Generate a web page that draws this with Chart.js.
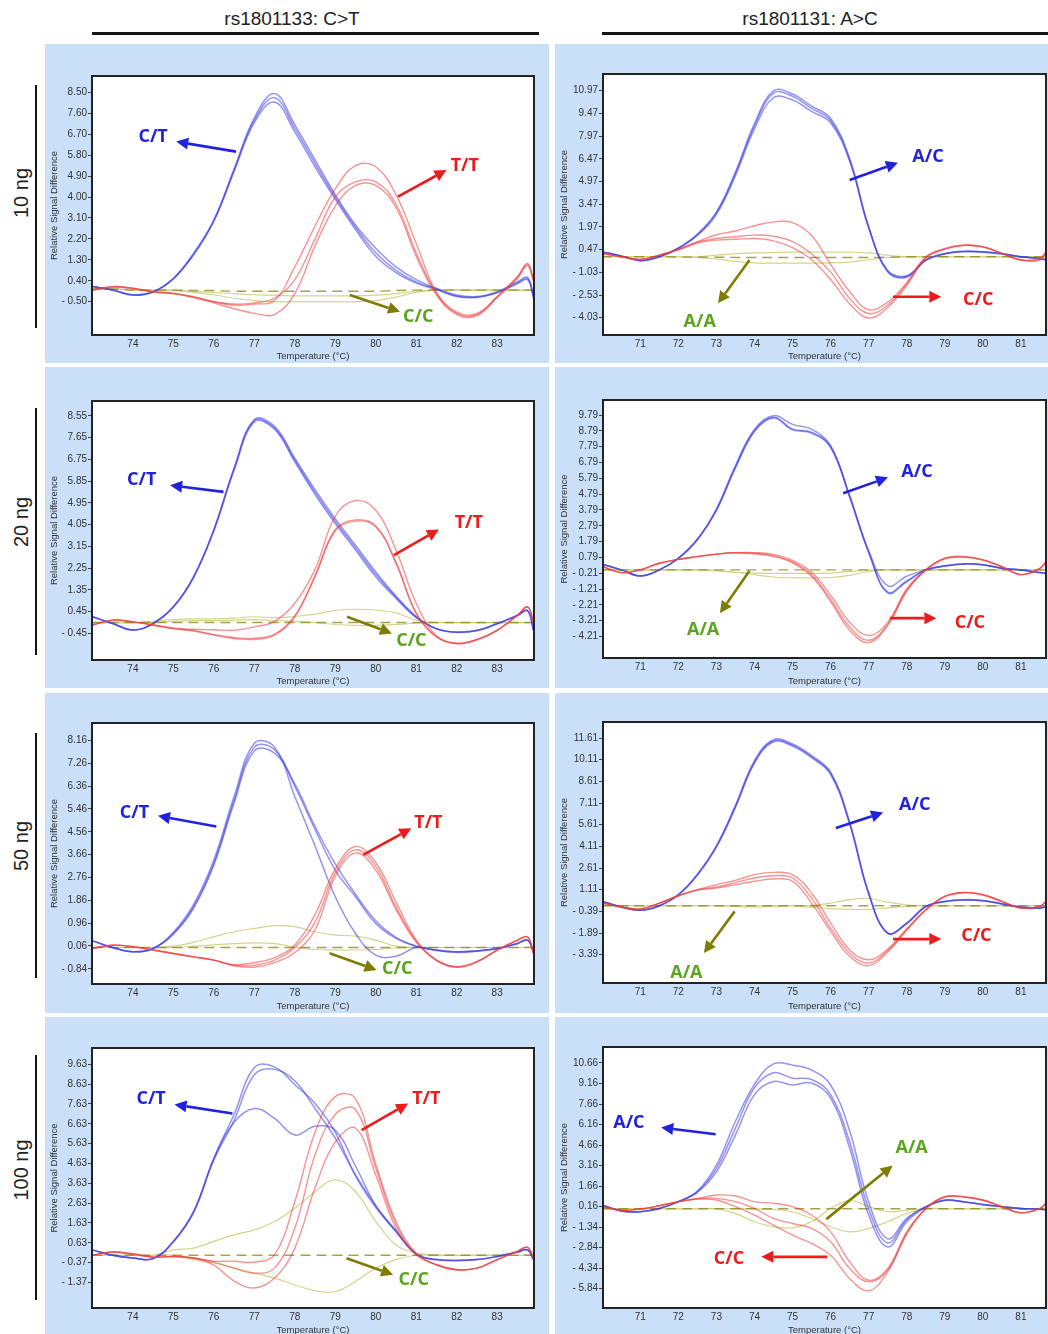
<!DOCTYPE html>
<html>
<head>
<meta charset="utf-8">
<script src="https://cdn.jsdelivr.net/npm/chart.js@4.4.1/dist/chart.umd.min.js"></script>
<style>
  body { margin: 0; background: #fff; }
  #page { position: relative; width: 1048px; height: 1334px; overflow: hidden; font-family: "Liberation Sans", Arial, sans-serif; }
  canvas { position: absolute; }
  .head { position: absolute; top: 9px; line-height: 20px; font-size: 19px; color: #222; transform: translateX(-50%); white-space: nowrap; }
  .rule { position: absolute; top: 32px; height: 3px; background: #151515; }
  .side { position: absolute; font-size: 20px; color: #222; transform: translate(-50%, -50%) rotate(-90deg); white-space: nowrap; }
  .vline { position: absolute; left: 35px; width: 2px; background: #151515; }
</style>
</head>
<body>
<div id="page"></div>
<script>
// temperatures (°C) the curves are sampled at
const tempL = [73, 73.5, 74, 74.5, 75, 75.5, 76, 76.5, 77, 77.5, 78, 78.5, 79, 79.5, 80, 80.5, 81, 81.5, 82, 82.5, 83, 83.5, 83.75, 83.9];
const tempR = [70, 70.5, 71, 71.5, 72, 72.5, 73, 73.5, 74, 74.5, 75, 75.5, 76, 76.5, 77, 77.5, 78, 78.5, 79, 79.5, 80, 80.5, 81, 81.5, 81.66];
const xTicksL = [74, 75, 76, 77, 78, 79, 80, 81, 82, 83];
const xTicksR = [71, 72, 73, 74, 75, 76, 77, 78, 79, 80, 81];

// y tick labels of each panel
const yTicks10L = [8.50, 7.60, 6.70, 5.80, 4.90, 4.00, 3.10, 2.20, 1.30, 0.40, -0.50];
const yTicks10R = [10.97, 9.47, 7.97, 6.47, 4.97, 3.47, 1.97, 0.47, -1.03, -2.53, -4.03];
const yTicks20L = [8.55, 7.65, 6.75, 5.85, 4.95, 4.05, 3.15, 2.25, 1.35, 0.45, -0.45];
const yTicks20R = [9.79, 8.79, 7.79, 6.79, 5.79, 4.79, 3.79, 2.79, 1.79, 0.79, -0.21, -1.21, -2.21, -3.21, -4.21];
const yTicks50L = [8.16, 7.26, 6.36, 5.46, 4.56, 3.66, 2.76, 1.86, 0.96, 0.06, -0.84];
const yTicks50R = [11.61, 10.11, 8.61, 7.11, 5.61, 4.11, 2.61, 1.11, -0.39, -1.89, -3.39];
const yTicks100L = [9.63, 8.63, 7.63, 6.63, 5.63, 4.63, 3.63, 2.63, 1.63, 0.63, -0.37, -1.37];
const yTicks100R = [10.66, 9.16, 7.66, 6.16, 4.66, 3.16, 1.66, 0.16, -1.34, -2.84, -4.34, -5.84];

// rs1801133 C>T, 10 ng
const ng10_CT = [
  [0.15, 0.0, -0.21, -0.07, 0.5, 1.58, 3.0, 5.2, 7.4, 8.45, 7.1, 5.6, 4.1, 2.8, 1.8, 1.0, 0.45, 0.08, -0.21, -0.28, -0.07, 0.36, 0.55, -0.28],
  [0.15, 0.0, -0.2, -0.07, 0.5, 1.55, 3.0, 5.15, 7.3, 8.27, 6.95, 5.45, 4.0, 2.7, 1.6, 0.85, 0.35, 0.05, -0.25, -0.3, -0.1, 0.3, 0.5, -0.3],
  [0.15, 0.0, -0.22, -0.08, 0.48, 1.5, 2.95, 5.1, 7.2, 8.08, 6.8, 5.3, 3.9, 2.6, 1.45, 0.75, 0.3, 0.02, -0.28, -0.32, -0.12, 0.28, 0.45, -0.35]
];
const ng10_TT = [
  [0.0, 0.15, 0.08, -0.07, -0.14, -0.28, -0.5, -0.65, -0.6, -0.45, 1.0, 2.75, 4.35, 5.35, 5.3, 4.1, 2.0, -0.1, -0.95, -1.0, -0.28, 0.58, 1.15, 0.43],
  [0.0, 0.15, 0.08, -0.07, -0.14, -0.3, -0.5, -0.6, -0.55, -0.35, 0.45, 2.2, 4.0, 4.65, 4.65, 3.7, 1.6, -0.15, -1.0, -1.05, -0.3, 0.55, 1.1, 0.4],
  [0.0, 0.12, 0.06, -0.08, -0.16, -0.32, -0.55, -0.8, -1.0, -1.05, -0.15, 1.9, 3.6, 4.5, 4.5, 3.55, 1.45, -0.2, -1.05, -1.1, -0.32, 0.5, 1.05, 0.38]
];
const ng10_CC = [
  [0.05, 0.05, 0.0, 0.0, 0.0, -0.02, -0.02, -0.05, -0.05, -0.05, -0.05, -0.05, -0.05, -0.05, -0.05, -0.02, 0.0, 0.0, 0.0, 0.0, 0.0, 0.0, 0.0, 0.0],
  [0.05, 0.05, 0.0, 0.0, -0.02, -0.1, -0.2, -0.35, -0.45, -0.5, -0.5, -0.5, -0.5, -0.5, -0.45, -0.3, -0.1, 0.0, 0.0, 0.0, 0.0, 0.0, 0.0, 0.0],
  [0.05, 0.05, 0.0, 0.0, 0.0, -0.05, -0.1, -0.15, -0.2, -0.22, -0.25, -0.25, -0.25, -0.25, -0.22, -0.15, -0.05, 0.0, 0.0, 0.0, 0.0, 0.0, 0.0, 0.0]
];

// rs1801131 A>C, 10 ng
const ng10_AC = [
  [0.33, 0.05, -0.26, 0.0, 0.58, 1.5, 2.95, 5.6, 8.8, 10.95, 10.75, 9.95, 9.15, 6.5, 2.0, -0.9, -1.25, -0.22, 0.22, 0.37, 0.33, 0.22, 0.0, -0.11, -0.2],
  [0.33, 0.05, -0.26, 0.0, 0.56, 1.45, 2.9, 5.5, 8.65, 10.8, 10.6, 9.8, 9.0, 6.4, 1.95, -0.95, -1.3, -0.22, 0.2, 0.35, 0.32, 0.2, 0.0, -0.12, -0.2],
  [0.33, 0.05, -0.26, 0.0, 0.54, 1.4, 2.8, 5.35, 8.45, 10.5, 10.35, 9.6, 8.85, 6.3, 1.9, -1.0, -1.35, -0.25, 0.18, 0.33, 0.3, 0.18, 0.0, -0.13, -0.22]
];
const ng10_CCb = [
  [0.22, 0.0, -0.18, 0.11, 0.48, 1.0, 1.45, 1.7, 2.05, 2.3, 2.25, 1.4, -0.5, -2.3, -3.5, -3.0, -1.7, 0.0, 0.55, 0.77, 0.66, 0.22, -0.22, -0.1, 0.33],
  [0.22, 0.0, -0.18, 0.11, 0.47, 0.95, 1.2, 1.32, 1.43, 1.35, 1.0, 0.2, -1.0, -2.75, -3.75, -3.2, -1.8, -0.05, 0.5, 0.75, 0.65, 0.22, -0.22, -0.2, 0.3],
  [0.22, 0.0, -0.18, 0.11, 0.46, 0.9, 1.1, 1.15, 1.2, 1.05, 0.6, -0.2, -1.5, -3.1, -4.05, -3.35, -1.9, -0.1, 0.5, 0.75, 0.65, 0.22, -0.22, -0.2, 0.3]
];
const ng10_AA = [
  [0, 0, 0, 0, -0.02, -0.03, -0.03, -0.05, -0.05, -0.05, -0.05, -0.05, -0.05, -0.05, -0.05, -0.03, 0, 0, 0, 0, 0, 0, 0, 0, 0],
  [0, 0, 0, 0, 0, 0, 0.1, 0.2, 0.25, 0.28, 0.3, 0.3, 0.3, 0.3, 0.25, 0.1, 0, 0, 0, 0, 0, 0, 0, 0, 0],
  [0, 0, 0, 0, 0, -0.05, -0.15, -0.3, -0.4, -0.42, -0.42, -0.42, -0.4, -0.35, -0.2, -0.05, 0, 0, 0, 0, 0, 0, 0, 0, 0]
];

// rs1801133 C>T, 20 ng
const ng20_CT = [
  [0.24, -0.04, -0.31, -0.04, 0.65, 1.9, 3.85, 6.4, 8.4, 8.12, 6.8, 5.5, 4.3, 3.2, 2.1, 1.1, 0.25, -0.25, -0.39, -0.32, -0.04, 0.3, 0.5, -0.32],
  [0.24, -0.04, -0.31, -0.04, 0.65, 1.88, 3.82, 6.35, 8.35, 8.05, 6.72, 5.4, 4.2, 3.1, 2.0, 1.05, 0.23, -0.25, -0.4, -0.33, -0.05, 0.3, 0.5, -0.33],
  [0.24, -0.04, -0.31, -0.04, 0.64, 1.86, 3.8, 6.3, 8.3, 8.0, 6.65, 5.3, 4.1, 3.0, 1.9, 1.0, 0.2, -0.27, -0.41, -0.34, -0.05, 0.28, 0.48, -0.34]
];
const ng20_TT = [
  [-0.1, 0.1, 0.03, -0.1, -0.22, -0.28, -0.3, -0.32, -0.18, 0.05, 0.8, 2.2, 4.4, 5.05, 4.65, 3.0, 0.8, -0.55, -0.85, -0.7, -0.32, 0.3, 0.65, 0.03],
  [-0.1, 0.1, 0.03, -0.1, -0.25, -0.35, -0.52, -0.66, -0.7, -0.52, 0.24, 1.89, 3.8, 4.2, 3.96, 2.45, 0.37, -0.6, -0.88, -0.72, -0.32, 0.3, 0.65, 0.03],
  [-0.1, 0.1, 0.03, -0.1, -0.25, -0.33, -0.5, -0.62, -0.65, -0.48, 0.28, 1.95, 3.85, 4.25, 4.0, 2.5, 0.4, -0.58, -0.87, -0.71, -0.32, 0.3, 0.65, 0.03]
];
const ng20_CC = [
  [0, 0, 0, 0, 0, 0, 0, 0, 0, 0, 0, 0, 0, 0, 0, 0, 0, 0, 0, 0, 0, 0, 0, 0],
  [0, 0, 0, 0.05, 0.12, 0.15, 0.15, 0.18, 0.24, 0.2, 0.25, 0.35, 0.5, 0.55, 0.52, 0.4, 0.1, 0, 0, 0, 0, 0, 0, 0],
  [0, 0, 0, 0, 0.05, 0.08, 0.08, 0.1, 0.12, 0.08, 0.05, 0, -0.08, -0.12, -0.12, -0.08, -0.02, 0, 0, 0, 0, 0, 0, 0]
];

// rs1801131 A>C, 20 ng
const ng20_AC = [
  [0.36, 0.0, -0.38, 0.0, 0.75, 1.95, 3.85, 6.6, 8.9, 9.75, 9.2, 8.9, 7.85, 4.7, 1.2, -1.0, -0.4, 0.0, 0.25, 0.38, 0.32, 0.1, 0.0, -0.17, -0.21],
  [0.36, 0.0, -0.38, 0.0, 0.72, 1.9, 3.75, 6.45, 8.75, 9.6, 8.85, 8.65, 7.75, 4.6, 1.1, -1.45, -0.75, 0.0, 0.25, 0.38, 0.32, 0.1, 0.0, -0.17, -0.21],
  [0.36, 0.0, -0.38, 0.0, 0.73, 1.92, 3.8, 6.5, 8.8, 9.65, 8.9, 8.7, 7.8, 4.65, 1.15, -1.4, -0.7, 0.0, 0.25, 0.38, 0.32, 0.1, 0.0, -0.17, -0.21]
];
const ng20_CCb = [
  [0.21, -0.17, 0.0, 0.42, 0.67, 0.84, 1.0, 1.09, 1.09, 0.98, 0.6, -0.15, -1.6, -3.3, -4.15, -3.3, -1.2, 0.0, 0.75, 0.85, 0.65, 0.21, -0.3, 0.1, 0.53],
  [0.21, -0.17, 0.0, 0.42, 0.67, 0.84, 1.0, 1.09, 1.05, 0.9, 0.5, -0.3, -1.85, -3.6, -4.45, -3.45, -1.3, 0.0, 0.72, 0.82, 0.63, 0.2, -0.3, 0.1, 0.5],
  [0.21, -0.17, 0.0, 0.42, 0.67, 0.84, 1.0, 1.07, 1.02, 0.85, 0.45, -0.4, -2.0, -3.8, -4.6, -3.5, -1.35, 0.0, 0.7, 0.8, 0.62, 0.2, -0.3, 0.1, 0.5]
];
const ng20_AA = [
  [0, 0, 0, 0, 0, 0, 0, 0, 0, 0, 0, 0, 0, 0, 0, 0, 0, 0, 0, 0, 0, 0, 0, 0, 0],
  [0, 0, 0, 0, 0, 0, -0.05, -0.15, -0.2, -0.22, -0.22, -0.22, -0.2, -0.1, -0.02, 0, 0, 0, 0, 0, 0, 0, 0, 0, 0],
  [0, 0, 0, 0, 0, 0, -0.05, -0.15, -0.3, -0.45, -0.5, -0.5, -0.48, -0.35, -0.1, 0, 0, 0, 0, 0, 0, 0, 0, 0, 0]
];

// rs1801133 C>T, 50 ng
const ng50_CT = [
  [0.26, 0.0, -0.17, -0.04, 0.6, 1.7, 3.45, 5.95, 8.05, 7.9, 5.95, 4.0, 2.0, 0.55, -0.3, -0.35, 0.0, -0.1, -0.17, -0.13, -0.04, 0.16, 0.29, -0.17],
  [0.26, 0.0, -0.17, -0.04, 0.55, 1.6, 3.32, 5.8, 7.9, 7.8, 6.35, 4.65, 3.05, 2.0, 0.95, 0.36, 0.05, -0.1, -0.17, -0.13, -0.04, 0.16, 0.29, -0.17],
  [0.26, 0.0, -0.17, -0.04, 0.52, 1.55, 3.25, 5.7, 7.75, 7.66, 6.45, 4.77, 3.3, 2.1, 1.05, 0.4, 0.05, -0.12, -0.2, -0.15, -0.05, 0.15, 0.28, -0.18]
];
const ng50_TT = [
  [-0.04, 0.09, 0.03, -0.1, -0.24, -0.37, -0.5, -0.68, -0.6, -0.4, 0.1, 1.3, 3.1, 3.98, 3.35, 1.8, 0.3, -0.5, -0.76, -0.56, -0.1, 0.29, 0.42, -0.24],
  [-0.04, 0.09, 0.03, -0.1, -0.24, -0.37, -0.5, -0.7, -0.7, -0.5, 0.0, 1.0, 2.95, 3.85, 3.2, 1.6, 0.25, -0.5, -0.76, -0.56, -0.1, 0.29, 0.42, -0.24],
  [-0.04, 0.09, 0.03, -0.1, -0.24, -0.37, -0.5, -0.72, -0.78, -0.6, -0.2, 0.7, 2.8, 3.72, 3.05, 1.5, 0.2, -0.52, -0.78, -0.58, -0.1, 0.28, 0.4, -0.25]
];
const ng50_CC = [
  [0, 0, 0, 0, 0, 0, 0, 0, 0, 0, 0, 0, 0, 0, 0, 0, 0, 0, 0, 0, 0, 0, 0, 0],
  [0, 0, 0, 0, 0.05, 0.2, 0.42, 0.62, 0.75, 0.86, 0.82, 0.62, 0.49, 0.45, 0.29, 0.05, 0, 0, 0, 0, 0, 0, 0, 0],
  [0, 0, 0, 0, 0, 0.05, 0.1, 0.15, 0.18, 0.15, 0.02, -0.08, -0.1, -0.1, -0.08, -0.02, 0, 0, 0, 0, 0, 0, 0, 0]
];

// rs1801131 A>C, 50 ng
const ng50_AC = [
  [0.3, -0.09, -0.32, 0.0, 0.78, 2.18, 4.15, 6.95, 10.05, 11.5, 11.2, 10.4, 9.25, 5.8, 0.9, -1.88, -1.2, -0.05, 0.3, 0.42, 0.37, 0.14, -0.09, -0.16, -0.05],
  [0.3, -0.09, -0.32, 0.0, 0.76, 2.15, 4.1, 6.88, 9.95, 11.42, 11.12, 10.32, 9.18, 5.72, 0.86, -1.9, -1.22, -0.06, 0.3, 0.4, 0.35, 0.13, -0.1, -0.16, -0.06],
  [0.3, -0.09, -0.32, 0.0, 0.74, 2.12, 4.05, 6.8, 9.88, 11.35, 11.05, 10.25, 9.1, 5.65, 0.82, -1.92, -1.24, -0.07, 0.28, 0.39, 0.34, 0.12, -0.1, -0.17, -0.07]
];
const ng50_CCb = [
  [0.18, -0.09, -0.23, 0.18, 0.69, 1.11, 1.46, 1.76, 2.15, 2.31, 2.15, 0.88, -1.2, -3.04, -3.74, -3.0, -1.6, -0.28, 0.65, 0.92, 0.76, 0.3, -0.16, -0.05, 0.3],
  [0.18, -0.09, -0.23, 0.18, 0.69, 1.1, 1.3, 1.6, 1.92, 2.08, 1.92, 0.53, -1.55, -3.27, -3.97, -3.1, -1.66, -0.28, 0.65, 0.92, 0.76, 0.3, -0.16, -0.05, 0.3],
  [0.18, -0.09, -0.23, 0.18, 0.69, 1.08, 1.22, 1.46, 1.69, 1.85, 1.69, 0.18, -1.78, -3.5, -4.15, -3.2, -1.7, -0.3, 0.63, 0.9, 0.74, 0.3, -0.16, -0.05, 0.3]
];
const ng50_AA = [
  [0, 0, 0, 0, 0, 0, 0, 0, 0, 0, 0, 0, 0, 0, 0, 0, 0, 0, 0, 0, 0, 0, 0, 0, 0],
  [0, 0, 0, 0, 0, 0, 0, 0, 0, 0, 0, 0.02, 0.18, 0.42, 0.5, 0.25, 0.05, 0, 0, 0, 0, 0, 0, 0, 0],
  [0, 0, 0, 0, 0, 0, 0, -0.05, -0.08, -0.05, 0, -0.1, -0.2, -0.25, -0.25, -0.15, -0.05, 0, 0, 0, 0, 0, 0, 0, 0]
];

// rs1801133 C>T, 100 ng
const ng100_CT = [
  [0.27, 0.0, -0.14, -0.17, 0.7, 2.2, 4.9, 7.1, 9.45, 9.5, 8.6, 7.65, 6.2, 4.0, 2.4, 1.2, 0.06, -0.22, -0.27, -0.22, -0.06, 0.16, 0.27, -0.22],
  [0.27, 0.0, -0.14, -0.17, 0.68, 2.15, 4.8, 6.8, 9.1, 9.38, 8.8, 7.4, 5.9, 4.05, 2.5, 1.25, 0.06, -0.22, -0.27, -0.22, -0.06, 0.16, 0.27, -0.22],
  [0.27, 0.0, -0.14, -0.17, 0.68, 2.2, 4.85, 6.7, 7.4, 6.9, 6.06, 6.5, 6.3, 4.5, 2.5, 1.2, 0.06, -0.22, -0.27, -0.22, -0.06, 0.16, 0.27, -0.22]
];
const ng100_TT = [
  [0.0, 0.16, 0.06, -0.1, -0.06, -0.14, -0.3, -0.3, -0.35, 0.03, 2.7, 6.2, 8.0, 7.9, 4.6, 1.7, 0.1, -0.48, -0.73, -0.65, -0.22, 0.2, 0.4, -0.14],
  [0.0, 0.16, 0.06, -0.1, -0.06, -0.14, -0.35, -0.65, -0.9, -0.65, 1.36, 5.05, 7.1, 7.35, 4.4, 1.55, 0.06, -0.48, -0.73, -0.65, -0.22, 0.2, 0.4, -0.14],
  [0.0, 0.16, 0.06, -0.1, -0.06, -0.14, -0.5, -1.3, -1.65, -1.15, 0.36, 3.4, 5.7, 6.4, 4.05, 1.36, 0.02, -0.48, -0.73, -0.65, -0.22, 0.2, 0.4, -0.14]
];
const ng100_CC = [
  [0, 0, 0, 0, 0, 0, 0, 0, 0, 0, 0, 0, 0, 0, 0, 0, 0, 0, 0, 0, 0, 0, 0, 0],
  [0, 0, 0, 0, 0.27, 0.36, 0.7, 1.03, 1.28, 1.7, 2.37, 3.2, 3.8, 3.2, 1.7, 0.52, 0.11, 0.02, 0, 0, 0, 0, 0, 0],
  [0, 0, 0, 0, 0, -0.22, -0.39, -0.65, -0.9, -1.15, -1.49, -1.79, -1.83, -1.32, -0.65, -0.22, 0, 0, 0, 0, 0, 0, 0, 0]
];

// rs1801131 A>C, 100 ng
const ng100_AC = [
  [0.27, -0.17, -0.22, 0.02, 0.52, 1.3, 3.2, 6.4, 9.1, 10.6, 10.5, 10.15, 9.05, 5.7, 0.5, -2.2, -0.7, 0.15, 0.64, 0.52, 0.32, 0.15, 0.02, -0.02, -0.1],
  [0.27, -0.17, -0.22, 0.02, 0.52, 1.25, 2.95, 5.9, 8.85, 9.95, 9.55, 9.45, 8.35, 4.9, 0.0, -2.5, -0.8, 0.15, 0.62, 0.5, 0.3, 0.15, 0.02, -0.02, -0.1],
  [0.27, -0.17, -0.22, 0.02, 0.5, 1.2, 2.7, 5.4, 8.35, 9.3, 9.05, 9.2, 8.1, 4.45, -0.45, -2.8, -0.95, 0.12, 0.6, 0.5, 0.3, 0.15, 0.02, -0.02, -0.1]
];
const ng100_CCb = [
  [0.15, -0.1, -0.02, 0.22, 0.52, 0.75, 1.0, 0.93, 0.52, 0.4, 0.15, -0.46, -1.69, -3.88, -5.23, -4.37, -1.69, 0.02, 0.88, 0.88, 0.64, 0.15, -0.3, 0.02, 0.4],
  [0.15, -0.1, -0.02, 0.22, 0.52, 0.72, 0.76, 0.52, 0.02, -0.71, -1.08, -1.44, -2.42, -4.37, -5.35, -4.5, -1.8, 0.0, 0.88, 0.88, 0.64, 0.15, -0.3, 0.02, 0.4],
  [0.15, -0.1, -0.02, 0.22, 0.52, 0.7, 0.64, 0.15, -0.46, -1.2, -1.93, -2.54, -3.4, -5.1, -6.0, -4.62, -1.85, 0.0, 0.85, 0.85, 0.62, 0.15, -0.3, 0.02, 0.4]
];
const ng100_AA = [
  [0, 0, 0, 0, 0, 0, 0, 0, 0, 0, 0, 0, 0, 0, 0, 0, 0, 0, 0, 0, 0, 0, 0, 0, 0],
  [0, 0, 0, 0, 0, 0, 0, -0.34, -0.95, -1.32, -1.4, -0.95, 0.02, 0.6, 0.15, -0.22, -0.1, 0, 0, 0, 0, 0, 0, 0, 0],
  [0, 0, 0, 0, 0, 0, 0, 0, 0, -0.05, -0.22, -0.71, -1.32, -1.69, -1.44, -0.95, -0.34, 0, 0, 0, 0, 0, 0, 0, 0]
];

const FONT = '"Liberation Sans", Arial, sans-serif';
const BG = '#cadff8';
const BLUE = '#2222dd', RED = '#ec1c1c', OLIVE = '#7d7d05', GREEN = '#5aa41e';

const lineStyle = {
  blue: { color: 'rgba(60,60,225,0.55)', width: 1.5 },
  red: { color: 'rgba(238,60,60,0.55)', width: 1.4 },
  yellow: { color: 'rgba(205,205,120,0.85)', width: 1.2 }
};

// genotype labels: text position and arrow (tail -> head), in data units
function note(text, color, arrowColor, x, y, ax1, ay1, ax2, ay2) {
  return { text, color, arrowColor, x, y, ax1, ay1, ax2, ay2 };
}

const panels = [
  { left: 45, top: 44, w: 504, h: 319, padTop: 32, padRight: 15, yw: 47, xh: 28,
    xs: tempL, xTicks: xTicksL, xMin: 72.99, xMax: 83.91, yMin: -1.93, yMax: 9.2, yTicks: yTicks10L,
    groups: [['red', ng10_TT], ['blue', ng10_CT], ['yellow', ng10_CC]],
    notes: [note('C/T', BLUE, BLUE, 74.5, 6.6, 76.55, 5.95, 75.07, 6.38),
            note('T/T', RED, RED, 82.2, 5.33, 80.55, 4.02, 81.75, 5.16),
            note('C/C', GREEN, OLIVE, 81.05, -1.14, 79.36, -0.21, 80.6, -0.93)] },
  { left: 555, top: 44, w: 493, h: 319, padTop: 30, padRight: 2, yw: 48, xh: 28,
    xs: tempR, xTicks: xTicksR, xMin: 70.02, xMax: 81.66, yMin: -5.17, yMax: 12.07, yTicks: yTicks10R,
    groups: [['red', ng10_CCb], ['blue', ng10_AC], ['yellow', ng10_AA]],
    notes: [note('A/C', BLUE, BLUE, 78.56, 6.61, 76.5, 5.07, 77.77, 6.21),
            note('C/C', RED, RED, 79.88, -2.86, 77.64, -2.64, 78.91, -2.64),
            note('A/A', GREEN, OLIVE, 72.56, -4.3, 73.87, -0.22, 73.04, -3.08)] },
  { left: 45, top: 367, w: 504, h: 321, padTop: 34, padRight: 15, yw: 47, xh: 28,
    xs: tempL, xTicks: xTicksL, xMin: 72.99, xMax: 83.91, yMin: -1.55, yMax: 9.17, yTicks: yTicks20L,
    groups: [['red', ng20_TT], ['blue', ng20_CT], ['yellow', ng20_CC]],
    notes: [note('C/T', BLUE, BLUE, 74.22, 5.89, 76.24, 5.41, 74.92, 5.68),
            note('T/T', RED, RED, 82.3, 4.13, 80.45, 2.79, 81.56, 3.85),
            note('C/C', GREEN, OLIVE, 80.88, -0.75, 79.29, 0.24, 80.4, -0.45)] },
  { left: 555, top: 367, w: 493, h: 321, padTop: 33, padRight: 2, yw: 48, xh: 30,
    xs: tempR, xTicks: xTicksR, xMin: 70.02, xMax: 81.66, yMin: -5.57, yMax: 10.74, yTicks: yTicks20R,
    groups: [['red', ng20_CCb], ['blue', ng20_AC], ['yellow', ng20_AA]],
    notes: [note('A/C', BLUE, BLUE, 78.27, 6.21, 76.33, 4.84, 77.51, 5.85),
            note('C/C', RED, RED, 79.66, -3.37, 77.56, -3.05, 78.78, -3.05),
            note('A/A', GREEN, OLIVE, 72.65, -3.79, 73.87, -0.06, 73.09, -2.74)] },
  { left: 45, top: 693, w: 504, h: 320, padTop: 30, padRight: 15, yw: 47, xh: 29,
    xs: tempL, xTicks: xTicksL, xMin: 72.99, xMax: 83.91, yMin: -1.44, yMax: 8.85, yTicks: yTicks50L,
    groups: [['red', ng50_TT], ['blue', ng50_CT], ['yellow', ng50_CC]],
    notes: [note('C/T', BLUE, BLUE, 74.04, 5.29, 76.06, 4.77, 74.62, 5.19),
            note('T/T', RED, RED, 81.3, 4.9, 79.69, 3.65, 80.88, 4.7),
            note('C/C', GREEN, OLIVE, 80.53, -0.83, 78.86, -0.23, 80.02, -0.89)] },
  { left: 555, top: 693, w: 493, h: 320, padTop: 29, padRight: 2, yw: 48, xh: 30,
    xs: tempR, xTicks: xTicksR, xMin: 70.02, xMax: 81.66, yMin: -5.35, yMax: 12.72, yTicks: yTicks50R,
    groups: [['red', ng50_CCb], ['blue', ng50_AC], ['yellow', ng50_AA]],
    notes: [note('A/C', BLUE, BLUE, 78.21, 6.99, 76.14, 5.38, 77.38, 6.46),
            note('C/C', RED, RED, 79.83, -2.12, 77.64, -2.31, 78.91, -2.31),
            note('A/A', GREEN, OLIVE, 72.21, -4.66, 73.48, -0.39, 72.67, -3.28)] },
  { left: 45, top: 1017, w: 504, h: 320, padTop: 31, padRight: 15, yw: 47, xh: 29,
    xs: tempL, xTicks: xTicksL, xMin: 72.99, xMax: 83.91, yMin: -2.66, yMax: 10.45, yTicks: yTicks100L,
    groups: [['red', ng100_TT], ['blue', ng100_CT], ['yellow', ng100_CC]],
    notes: [note('C/T', BLUE, BLUE, 74.45, 7.9, 76.46, 7.15, 75.03, 7.6),
            note('T/T', RED, RED, 81.25, 7.9, 79.65, 6.31, 80.8, 7.65),
            note('C/C', GREEN, OLIVE, 80.94, -1.24, 79.28, -0.15, 80.43, -0.98)] },
  { left: 555, top: 1017, w: 493, h: 320, padTop: 30, padRight: 2, yw: 48, xh: 29,
    xs: tempR, xTicks: xTicksR, xMin: 70.02, xMax: 81.66, yMin: -7.26, yMax: 11.83, yTicks: yTicks100R,
    groups: [['red', ng100_CCb], ['blue', ng100_AC], ['yellow', ng100_AA]],
    notes: [note('A/C', BLUE, BLUE, 70.7, 6.26, 72.98, 5.45, 71.55, 5.94),
            note('A/A', GREEN, OLIVE, 78.13, 4.43, 75.89, -0.76, 77.63, 3.16),
            note('C/C', RED, RED, 73.33, -3.69, 75.91, -3.52, 74.18, -3.52)] }
];

const page = document.getElementById('page');

function addDiv(cls, text, css) {
  const d = document.createElement('div');
  d.className = cls;
  if (text) d.textContent = text;
  Object.assign(d.style, css);
  page.appendChild(d);
}

addDiv('head', 'rs1801133: C>T', { left: '292px' });
addDiv('head', 'rs1801131: A>C', { left: '810px' });
addDiv('rule', '', { left: '92px', width: '447px' });
addDiv('rule', '', { left: '602px', width: '446px' });

const rows = [['10 ng', 193, 85, 328], ['20 ng', 522, 408, 655], ['50 ng', 846, 733, 978], ['100 ng', 1170, 1055, 1300]];
rows.forEach(r => {
  addDiv('side', r[0], { left: '21px', top: r[1] + 'px' });
  addDiv('vline', '', { top: r[2] + 'px', height: (r[3] - r[2]) + 'px' });
});

function fmtTick(v) {
  return v < 0 ? '- ' + Math.abs(v).toFixed(2) : v.toFixed(2);
}

function drawArrow(ctx, x1, y1, x2, y2, color) {
  const ang = Math.atan2(y2 - y1, x2 - x1);
  const hl = 12, hw = 6;
  const bx = x2 - hl * Math.cos(ang), by = y2 - hl * Math.sin(ang);
  ctx.strokeStyle = color;
  ctx.lineWidth = 2.6;
  ctx.beginPath(); ctx.moveTo(x1, y1); ctx.lineTo(bx, by); ctx.stroke();
  ctx.fillStyle = color;
  ctx.beginPath();
  ctx.moveTo(x2, y2);
  ctx.lineTo(bx + hw * Math.sin(ang), by - hw * Math.cos(ang));
  ctx.lineTo(bx - hw * Math.sin(ang), by + hw * Math.cos(ang));
  ctx.closePath(); ctx.fill();
}

function buildChart(p) {
  const cv = document.createElement('canvas');
  cv.width = p.w; cv.height = p.h;
  cv.style.left = p.left + 'px';
  cv.style.top = p.top + 'px';
  page.appendChild(cv);

  let datasets = [];
  p.groups.forEach(([kind, sets]) => {
    sets.forEach((ys, k) => {
      const st = lineStyle[kind];
      const flat = kind === 'yellow' && k === 0;
      datasets.push({
        data: ys.map((y, i) => ({ x: p.xs[i], y: y })),
        borderColor: flat ? 'rgba(140,140,25,0.8)' : st.color,
        borderWidth: flat ? 1.4 : st.width,
        borderDash: flat ? [10, 6] : [],
        pointRadius: 0,
        tension: 0.4,
        fill: false
      });
    });
  });

  const panelPlugin = {
    id: 'panel',
    beforeDraw(chart) {
      const { ctx, chartArea: a } = chart;
      ctx.save();
      ctx.fillStyle = BG;
      ctx.fillRect(0, 0, chart.width, chart.height);
      ctx.fillStyle = '#fff';
      ctx.fillRect(a.left, a.top, a.right - a.left, a.bottom - a.top);
      ctx.restore();
    },
    afterDatasetsDraw(chart) {
      const { ctx, chartArea: a, scales: { x, y } } = chart;
      ctx.save();
      p.notes.forEach(n => {
        drawArrow(ctx, x.getPixelForValue(n.ax1), y.getPixelForValue(n.ay1),
          x.getPixelForValue(n.ax2), y.getPixelForValue(n.ay2), n.arrowColor);
        ctx.fillStyle = n.color;
        ctx.font = 'bold 18px "Open Sans", sans-serif';
        ctx.textAlign = 'center';
        ctx.textBaseline = 'middle';
        ctx.fillText(n.text, x.getPixelForValue(n.x), y.getPixelForValue(n.y));
      });
      ctx.strokeStyle = '#222';
      ctx.lineWidth = 2;
      ctx.strokeRect(a.left, a.top, a.right - a.left, a.bottom - a.top);
      ctx.restore();
    }
  };

  new Chart(cv, {
    type: 'line',
    data: { datasets },
    options: {
      responsive: false,
      animation: false,
      devicePixelRatio: 1,
      layout: { padding: { top: p.padTop, right: p.padRight, left: 0, bottom: 0 } },
      plugins: { legend: { display: false }, tooltip: { enabled: false } },
      scales: {
        x: {
          type: 'linear', min: p.xMin, max: p.xMax,
          afterBuildTicks: s => { s.ticks = p.xTicks.map(v => ({ value: v })); },
          afterFit: s => { s.height = p.xh; },
          grid: { display: false, drawTicks: false },
          border: { display: false },
          ticks: { padding: 3, autoSkip: false, maxRotation: 0, color: '#333', font: { size: 10, family: FONT }, callback: v => String(v) },
          title: { display: true, text: 'Temperature (°C)', color: '#333', font: { size: 9.5, family: FONT }, padding: { top: 0, bottom: 1 } }
        },
        y: {
          min: p.yMin, max: p.yMax,
          afterBuildTicks: s => { s.ticks = p.yTicks.map(v => ({ value: v })); },
          afterFit: s => { s.width = p.yw; },
          grid: { drawOnChartArea: false, drawTicks: true, tickLength: 4, color: '#444' },
          border: { display: false },
          ticks: { padding: 1, autoSkip: false, color: '#333', font: { size: 10, family: FONT }, callback: v => fmtTick(v) },
          title: { display: true, text: 'Relative Signal Difference', color: '#333', font: { size: 9.5, family: FONT }, padding: { top: 4, bottom: 0 } }
        }
      }
    },
    plugins: [panelPlugin]
  });
}

panels.forEach(buildChart);
</script>
</body>
</html>
